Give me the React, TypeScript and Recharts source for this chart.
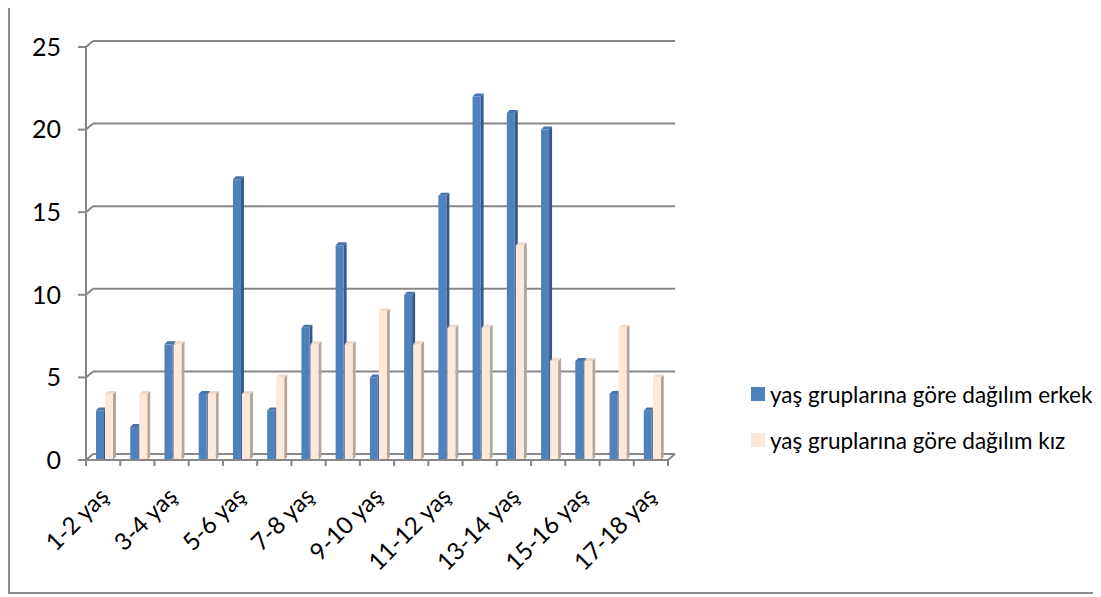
import React from 'react';
import { BarChart, Bar, XAxis, YAxis, CartesianGrid } from 'recharts';

const categories = ['1-2 yaş', '2-3 yaş', '3-4 yaş', '4-5 yaş', '5-6 yaş', '6-7 yaş', '7-8 yaş', '8-9 yaş', '9-10 yaş', '10-11 yaş', '11-12 yaş', '12-13 yaş', '13-14 yaş', '14-15 yaş', '15-16 yaş', '16-17 yaş', '17-18 yaş'];
const erkek = [3, 2, 7, 4, 17, 3, 8, 13, 5, 10, 16, 22, 21, 20, 6, 4, 3];
const kiz = [4, 4, 7, 4, 4, 5, 7, 7, 9, 7, 8, 8, 13, 6, 6, 8, 5];
const yTicks = [0, 5, 10, 15, 20, 25];
const seriesNames = ['yaş gruplarına göre dağılım erkek', 'yaş gruplarına göre dağılım kız'];

const data = categories.map((c, i) => ({ name: c, erkek: erkek[i], kiz: kiz[i] }));

const W = 1089;
const H = 589;
const PLOT_LEFT = 78;
const PLOT_RIGHT = 660;
const PLOT_TOP = 42;
const PLOT_BOTTOM = 455;
const BAND = (PLOT_RIGHT - PLOT_LEFT) / categories.length;
const GRID = '#878787';
const FONT = 'Lato, "Open Sans", sans-serif';

const COLORS = {
  erkek: { front: '#4f81bd', side: '#36598a', top: '#4674aa' },
  kiz: { front: '#fde9d9', side: '#b3a79d', top: '#eedacb' },
};

const make3D = (c: { front: string; side: string; top: string }) => (props: any) => {
  const { x, y, width, height } = props;
  if (x == null || y == null || !width || height == null) return <g />;
  const d = 3;
  const x0 = x + 1;
  return (
    <g>
      <polygon
        points={`${x0 + width},${y} ${x0 + width + d},${y - d} ${x0 + width + d},${y + height - d} ${x0 + width},${y + height}`}
        fill={c.side}
      />
      <polygon
        points={`${x0},${y} ${x0 + d},${y - d} ${x0 + width + d},${y - d} ${x0 + width},${y}`}
        fill={c.top}
      />
      <rect x={x0} y={y} width={width} height={height} fill={c.front} />
    </g>
  );
};

const gridLine = (props: any) => {
  const { x1, x2, y1 } = props;
  const dx = 7;
  const dy = 6;
  const isZero = Math.abs(y1 - PLOT_BOTTOM) < 1;
  return (
    <g key={`g-${y1}`}>
      <line x1={x1} y1={y1} x2={x1 + dx} y2={y1 - dy} stroke={GRID} strokeWidth={2} />
      <line x1={x1 + dx} y1={y1 - dy} x2={x2 + dx} y2={y1 - dy} stroke={GRID} strokeWidth={2} />
      {isZero && <line x1={x2} y1={y1} x2={x2 + dx} y2={y1 - dy} stroke={GRID} strokeWidth={2} />}
    </g>
  );
};

const XTick = (props: any) => {
  const { x, index, payload } = props;
  const left = x - BAND / 2;
  const last = index === categories.length - 1;
  return (
    <g>
      <line x1={left} y1={PLOT_BOTTOM} x2={left} y2={PLOT_BOTTOM + 6} stroke={GRID} strokeWidth={2} />
      {last && (
        <line x1={x + BAND / 2} y1={PLOT_BOTTOM} x2={x + BAND / 2} y2={PLOT_BOTTOM + 6} stroke={GRID} strokeWidth={2} />
      )}
      {index % 2 === 0 && (
        <text
          transform={`translate(${x + 7},${PLOT_BOTTOM + 38}) rotate(-45)`}
          textAnchor="end"
          fontSize={24}
          fontFamily={FONT}
          fill="#000"
        >
          {payload.value}
        </text>
      )}
    </g>
  );
};

export default function App() {
  return (
    <div style={{ position: 'relative', width: W, height: H, marginTop: -3 }}>
      <BarChart
        width={W}
        height={H}
        data={data}
        margin={{ top: PLOT_TOP, right: W - PLOT_RIGHT, bottom: 0, left: 0 }}
        barSize={8}
        barGap={1}
      >
        <CartesianGrid vertical={false} horizontal={gridLine} />
        <XAxis
          dataKey="name"
          height={H - PLOT_BOTTOM}
          interval={0}
          tickLine={false}
          axisLine={{ stroke: GRID, strokeWidth: 2 }}
          tick={<XTick />}
        />
        <YAxis
          width={PLOT_LEFT}
          domain={[0, 25]}
          ticks={yTicks}
          interval={0}
          tickSize={8}
          tickMargin={17}
          axisLine={{ stroke: GRID, strokeWidth: 2 }}
          tickLine={{ stroke: GRID, strokeWidth: 2 }}
          tick={{ fontSize: 25, fontFamily: FONT, fill: '#000' }}
        />
        <Bar dataKey="erkek" name={seriesNames[0]} isAnimationActive={false} shape={make3D(COLORS.erkek)} />
        <Bar dataKey="kiz" name={seriesNames[1]} isAnimationActive={false} shape={make3D(COLORS.kiz)} />
      </BarChart>
      <div
        style={{
          position: 'absolute',
          left: 743,
          top: 366,
          fontFamily: FONT,
          fontSize: 22.5,
          color: '#000',
          whiteSpace: 'nowrap',
        }}
      >
        {seriesNames.map((n, i) => (
          <div key={n} style={{ display: 'flex', alignItems: 'center', height: 46 }}>
            <span
              style={{
                display: 'inline-block',
                width: 14,
                height: 14,
                background: i === 0 ? COLORS.erkek.front : COLORS.kiz.front,
                marginRight: 5,
                flex: 'none',
              }}
            />
            <span>{n}</span>
          </div>
        ))}
      </div>
      <div
        style={{
          position: 'absolute',
          left: 0,
          top: 0,
          width: W,
          height: H,
          border: '2px solid #8c8c8c',
          boxSizing: 'border-box',
          pointerEvents: 'none',
        }}
      />
    </div>
  );
}
